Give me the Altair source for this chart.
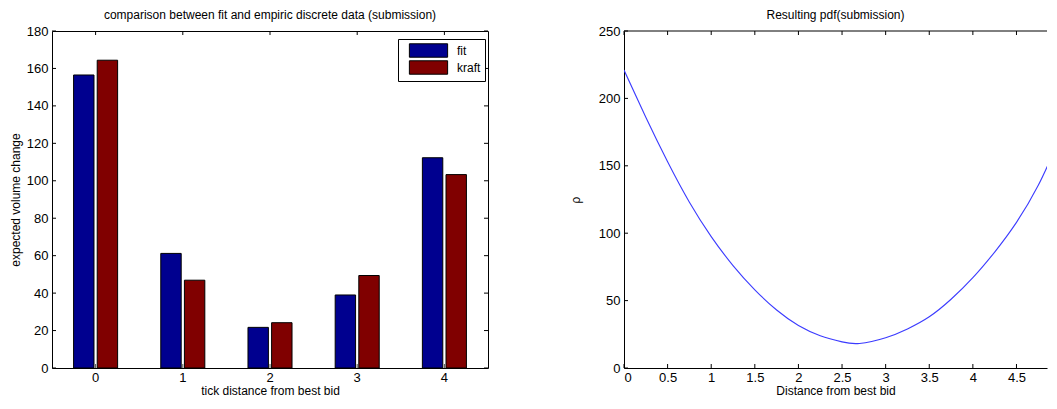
import altair as alt
import pandas as pd

# ---------------- data ----------------
categories = [0, 1, 2, 3, 4]
fit_values = [156.5, 61.2, 21.7, 39.0, 112.3]
kraft_values = [164.4, 46.9, 24.2, 49.4, 103.3]
series_names = ["fit", "kraft"]
series_colors = ["#00008F", "#800000"]
bar_y_ticks = [0, 20, 40, 60, 80, 100, 120, 140, 160, 180]

pdf_x = [0, 0.25, 0.5, 0.75, 1.0, 1.25, 1.5, 1.75, 2.0, 2.25, 2.5, 2.7,
         3.0, 3.25, 3.5, 3.75, 4.0, 4.25, 4.5, 4.75, 4.96]
pdf_y = [221, 186, 153, 123, 97.5, 76, 58, 43, 31.5, 24, 19.4, 18.2,
         22.5, 29, 38, 51, 67, 86, 108, 135.5, 165]
pdf_x_ticks = [0, 0.5, 1, 1.5, 2, 2.5, 3, 3.5, 4, 4.5]
pdf_y_ticks = [0, 50, 100, 150, 200, 250]

FONT = "Liberation Sans"

# ---------------- left panel ----------------
W1, H = 436, 337
rows = []
for c, f, k in zip(categories, fit_values, kraft_values):
    rows.append({"cat": c, "series": "fit", "value": f})
    rows.append({"cat": c, "series": "kraft", "value": k})
bar_df = pd.DataFrame(rows)
cat_df = pd.DataFrame({"cat": categories})
ytick_df = pd.DataFrame({"value": bar_y_ticks})

x1 = alt.X("cat:O",
           scale=alt.Scale(paddingInner=0.495, paddingOuter=0.2475),
           axis=alt.Axis(title="tick distance from best bid", labelAngle=0,
                         ticks=False, domain=False, labelPadding=3,
                         titlePadding=1))
y1 = alt.Y("value:Q", scale=alt.Scale(domain=[0, 180], nice=False),
           axis=alt.Axis(values=bar_y_ticks, title="expected volume change",
                         ticks=False, domain=False, grid=False,
                         labelPadding=4, titlePadding=4))

legend_path = "M-2.85,-1H2.85V1H-2.85Z"

bars = alt.Chart(bar_df).mark_bar(stroke="black", strokeWidth=1).encode(
    x=x1,
    xOffset=alt.XOffset("series:N", sort=series_names,
                        scale=alt.Scale(domain=series_names, paddingInner=0.136)),
    y=y1,
    color=alt.Color("series:N", sort=series_names,
                    scale=alt.Scale(domain=series_names, range=series_colors),
                    legend=alt.Legend(title=None, orient="none", legendX=346, legendY=8,
                                      symbolType=legend_path, symbolSize=180,
                                      symbolStrokeColor="black", symbolStrokeWidth=1,
                                      symbolOffset=19, labelOffset=21,
                                      labelFontSize=12, labelFont=FONT, labelColor="black",
                                      rowPadding=-2, padding=4,
                                      strokeColor="black", fillColor="white",
                                      cornerRadius=0)),
)

tick_l1 = alt.Chart(ytick_df).mark_rule(color="black").encode(
    y=y1, x=alt.value(0), x2=alt.value(4))
tick_r1 = alt.Chart(ytick_df).mark_rule(color="black").encode(
    y=y1, x=alt.value(W1 - 4), x2=alt.value(W1))
tick_b1 = alt.Chart(cat_df).mark_rule(color="#555555").encode(
    x=x1, y=alt.value(H - 4), y2=alt.value(H))
tick_t1 = alt.Chart(cat_df).mark_rule(color="black").encode(
    x=x1, y=alt.value(0), y2=alt.value(4))

left = alt.layer(bars, tick_l1, tick_r1, tick_b1, tick_t1).properties(
    width=W1, height=H,
    title="comparison between fit and empiric discrete data (submission)",
    view=alt.ViewBackground(stroke="black", strokeWidth=1),
)

# ---------------- right panel ----------------
W2 = 423
pdf_df = pd.DataFrame({"x": pdf_x, "y": pdf_y})
xt_df = pd.DataFrame({"x": pdf_x_ticks})
yt_df = pd.DataFrame({"y": pdf_y_ticks})

x2 = alt.X("x:Q", scale=alt.Scale(domain=[0, 4.85], nice=False, zero=False),
           axis=alt.Axis(values=pdf_x_ticks, format="~g", title="Distance from best bid",
                         ticks=False, grid=False, domain=True, domainColor="black",
                         labelPadding=3, titlePadding=1))
y2 = alt.Y("y:Q", scale=alt.Scale(domain=[0, 250], nice=False),
           axis=alt.Axis(values=pdf_y_ticks, title="ρ", ticks=False, grid=False,
                         domain=True, domainColor="black", labelPadding=4,
                         titlePadding=16))

curve = alt.Chart(pdf_df).mark_line(color="#3b3bff", strokeWidth=1.1, clip=True,
                                    interpolate="natural").encode(x=x2, y=y2)
tick_l2 = alt.Chart(yt_df).mark_rule(color="black").encode(
    y=y2, x=alt.value(0), x2=alt.value(4))
tick_b2 = alt.Chart(xt_df).mark_rule(color="black").encode(
    x=x2, y=alt.value(H - 4), y2=alt.value(H))
tick_t2 = alt.Chart(xt_df).mark_rule(color="black").encode(
    x=x2, y=alt.value(0), y2=alt.value(4))
top_frame = alt.Chart(pd.DataFrame({"edge": ["top"]})).mark_rule(color="black").encode(
    x=alt.value(0), x2=alt.value(W2), y=alt.value(0))

right = alt.layer(curve, tick_l2, tick_b2, tick_t2, top_frame).properties(
    width=W2, height=H, title="Resulting pdf(submission)",
    view=alt.ViewBackground(stroke=None),
)

chart = alt.hconcat(left, right, spacing=80).properties(
    padding={"left": 0, "top": 0, "right": 0, "bottom": 0},
).configure_title(
    font=FONT, fontSize=12, fontWeight="normal", color="black", frame="group", offset=3,
).configure_axis(
    labelFont=FONT, labelFontSize=13, labelColor="black",
    titleFont=FONT, titleFontSize=12, titleFontWeight="normal", titleColor="black",
).configure_view(stroke="black")

chart.save("out.html", embed_options={"renderer": "svg", "actions": False})
